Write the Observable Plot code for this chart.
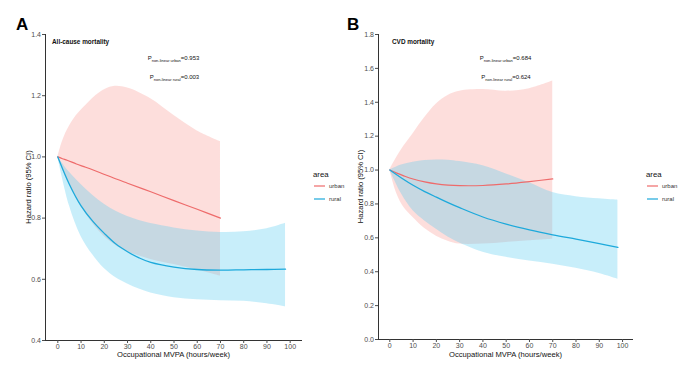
<!DOCTYPE html>
<html><head><meta charset="utf-8">
<script src="https://cdn.jsdelivr.net/npm/d3@7"></script>
<script src="https://cdn.jsdelivr.net/npm/@observablehq/plot@0.6"></script>
<style>
body{margin:0;background:#fff;}
#wrap{position:relative;width:698px;height:374px;overflow:hidden;font-family:"Liberation Sans",Arial,sans-serif;background:#fff;}
#pa,#pb{position:absolute;top:0;}
#pa{left:0px} #pb{left:340px}
#ov{position:absolute;left:0;top:0;pointer-events:none;font-family:"Liberation Sans",Arial,sans-serif;}
</style></head><body>
<div id="wrap"><div id="pa"></div><div id="pb"></div><svg id="ov" width="698" height="374"></svg></div>
<script>
// ---------- data ----------
const xTicks = [0,10,20,30,40,50,60,70,80,90,100];
const yTicksA = [0.4,0.6,0.8,1.0,1.2,1.4];
const yTicksB = [0.0,0.2,0.4,0.6,0.8,1.0,1.2,1.4,1.6,1.8];
const areaLabels = ["urban","rural"];

// Panel A: all-cause mortality
const aUrbanX     = [0, 2, 4, 8, 12, 18, 24, 30, 40, 50, 60, 70];
const aUrbanHR    = [1.0, 0.994, 0.989, 0.977, 0.966, 0.949, 0.931, 0.914, 0.886, 0.857, 0.829, 0.80];
const aUrbanUpper = [1.0, 1.05, 1.086, 1.135, 1.168, 1.21, 1.23, 1.225, 1.19, 1.135, 1.085, 1.05];
const aUrbanLower = [1.0, 0.96, 0.925, 0.865, 0.815, 0.755, 0.715, 0.69, 0.665, 0.648, 0.63, 0.61];

const aRuralX     = [0, 5, 10, 15, 20, 25, 30, 35, 40, 50, 60, 70, 80, 90, 98];
const aRuralHR    = [1.0, 0.91, 0.84, 0.79, 0.75, 0.715, 0.69, 0.67, 0.655, 0.64, 0.632, 0.63, 0.631, 0.632, 0.633];
const aRuralUpper = [1.0, 0.95, 0.91, 0.875, 0.845, 0.822, 0.805, 0.792, 0.782, 0.768, 0.758, 0.753, 0.755, 0.765, 0.783];
const aRuralLower = [1.0, 0.84, 0.74, 0.68, 0.635, 0.605, 0.585, 0.568, 0.555, 0.54, 0.533, 0.53, 0.528, 0.52, 0.51];

// Panel B: CVD mortality
const bUrbanX     = [0, 3, 6, 10, 15, 20, 25, 30, 40, 50, 60, 70];
const bUrbanHR    = [1.0, 0.982, 0.966, 0.947, 0.93, 0.918, 0.911, 0.908, 0.909, 0.918, 0.932, 0.948];
const bUrbanUpper = [1.0, 1.075, 1.14, 1.215, 1.31, 1.39, 1.44, 1.465, 1.475, 1.465, 1.48, 1.525];
const bUrbanLower = [1.0, 0.86, 0.78, 0.72, 0.655, 0.61, 0.58, 0.563, 0.563, 0.573, 0.583, 0.592];

const bRuralX     = [0, 5, 10, 15, 20, 25, 30, 40, 50, 60, 70, 80, 90, 98];
const bRuralHR    = [1.0, 0.953, 0.91, 0.873, 0.84, 0.808, 0.778, 0.723, 0.681, 0.647, 0.618, 0.592, 0.566, 0.544];
const bRuralUpper = [1.0, 1.03, 1.046, 1.056, 1.06, 1.058, 1.05, 1.025, 0.977, 0.925, 0.867, 0.843, 0.83, 0.822];
const bRuralLower = [1.0, 0.86, 0.76, 0.70, 0.65, 0.605, 0.57, 0.515, 0.485, 0.463, 0.444, 0.42, 0.39, 0.356];

const pTexts = {
  A: [["non-linear urban","=0.953"],["non-linear rural","=0.003"]],
  B: [["non-linear urban","=0.684"],["non-linear rural","=0.624"]]
};

// ---------- styles ----------
const urbanLine = "#EE6B6B", ruralLine = "#1DA9DB";
const urbanFill = "#F8766D", ruralFill = "#58CBF0";

function rows(xs, hr, lo, hi){ return xs.map((x,i)=>({x, hr:hr[i], lo:lo[i], hi:hi[i]})); }

function panel(o){
  const urban = rows(o.ux,o.uhr,o.ulo,o.uhi), rural = rows(o.rx,o.rhr,o.rlo,o.rhi);
  const curve = "catmull-rom";
  return Plot.plot({
    width:o.width, height:374, marginTop:34, marginBottom:o.mb, marginLeft:o.ml, marginRight:o.mr,
    style:{fontFamily:'"Liberation Sans",Arial,sans-serif', fontSize:"7px", background:"transparent"},
    x:{domain:o.xDomain}, y:{domain:o.yDomain},
    marks:[
      Plot.areaY(urban,{x:"x",y1:"lo",y2:"hi",fill:urbanFill,fillOpacity:0.24,curve}),
      Plot.areaY(rural,{x:"x",y1:"lo",y2:"hi",fill:ruralFill,fillOpacity:0.33,curve}),
      Plot.line(urban,{x:"x",y:"hr",stroke:urbanLine,strokeWidth:1.2,curve}),
      Plot.line(rural,{x:"x",y:"hr",stroke:ruralLine,strokeWidth:1.3,curve}),
      Plot.ruleY([o.yDomain[0]],{stroke:"#333",strokeWidth:1}),
      Plot.ruleX([o.xDomain[0]],{stroke:"#333",strokeWidth:1}),
      Plot.axisX({ticks:xTicks,tickSize:3,tickPadding:0.5,fontSize:7,color:"#4d4d4d",label:null,tickFormat:d=>String(d)}),
      Plot.axisY({ticks:o.yTicks,tickSize:3,tickPadding:1.5,fontSize:7,color:"#4d4d4d",label:null,tickFormat:d3.format(".1f")})
    ]
  });
}

document.getElementById("pa").append(panel({
  width:340, ml:45, mr:38, mb:34, xDomain:[-5.3,105.3], yDomain:[0.4,1.4], yTicks:yTicksA,
  ux:aUrbanX, uhr:aUrbanHR, ulo:aUrbanLower, uhi:aUrbanUpper,
  rx:aRuralX, rhr:aRuralHR, rlo:aRuralLower, rhi:aRuralUpper
}));
document.getElementById("pb").append(panel({
  width:358, ml:38, mr:65, mb:35, xDomain:[-4.86,104.7], yDomain:[0,1.8], yTicks:yTicksB,
  ux:bUrbanX, uhr:bUrbanHR, ulo:bUrbanLower, uhi:bUrbanUpper,
  rx:bRuralX, rhr:bRuralHR, rlo:bRuralLower, rhi:bRuralUpper
}));

// ---------- overlay text ----------
const ov = d3.select("#ov");
function txt(x,y,s,attrs){ const t=ov.append("text").attr("x",x).attr("y",y).text(s); for(const k in attrs) t.attr(k,attrs[k]); return t; }

txt(16,30,"A",{"font-size":17,"font-weight":"bold",fill:"#000"});
txt(347,30,"B",{"font-size":17,"font-weight":"bold",fill:"#000"});
txt(52,44,"All-cause mortality",{"font-size":6.4,"font-weight":"bold",fill:"#111"});
txt(392,44,"CVD mortality",{"font-size":6.4,"font-weight":"bold",fill:"#111"});

function ptext(cx, y, parts){
  const t = ov.append("text").attr("x",cx).attr("y",y).attr("text-anchor","middle").attr("font-size",6).attr("fill","#111");
  t.append("tspan").text("P");
  t.append("tspan").attr("font-size",4).attr("dy",1.5).text(parts[0]);
  t.append("tspan").attr("dy",-1.5).text(parts[1]);
}
ptext(173.5,60,pTexts.A[0]); ptext(174.5,79,pTexts.A[1]);
ptext(505.5,60,pTexts.B[0]); ptext(506,79,pTexts.B[1]);

// axis titles
txt(173.5,357,"Occupational MVPA (hours/week)",{"font-size":7.6,"text-anchor":"middle",fill:"#111"});
txt(505.5,357,"Occupational MVPA (hours/week)",{"font-size":7.6,"text-anchor":"middle",fill:"#111"});
txt(0,0,"Hazard ratio (95% CI)",{"font-size":7.6,"text-anchor":"middle",fill:"#111",transform:"translate(31,187) rotate(-90)"});
txt(0,0,"Hazard ratio (95% CI)",{"font-size":7.6,"text-anchor":"middle",fill:"#111",transform:"translate(363,186.5) rotate(-90)"});

// legends
function legend(x){
  txt(x,177,"area",{"font-size":7.8,fill:"#111"});
  [urbanLine, ruralLine].forEach((c,i)=>{
    const y = 186 + i*13;
    ov.append("line").attr("x1",x+1).attr("x2",x+12).attr("y1",y).attr("y2",y).attr("stroke",c).attr("stroke-width",1.2);
    txt(x+16,y+2,areaLabels[i],{"font-size":6,fill:"#333"});
  });
}
legend(313); legend(646);
</script>
</body></html>
